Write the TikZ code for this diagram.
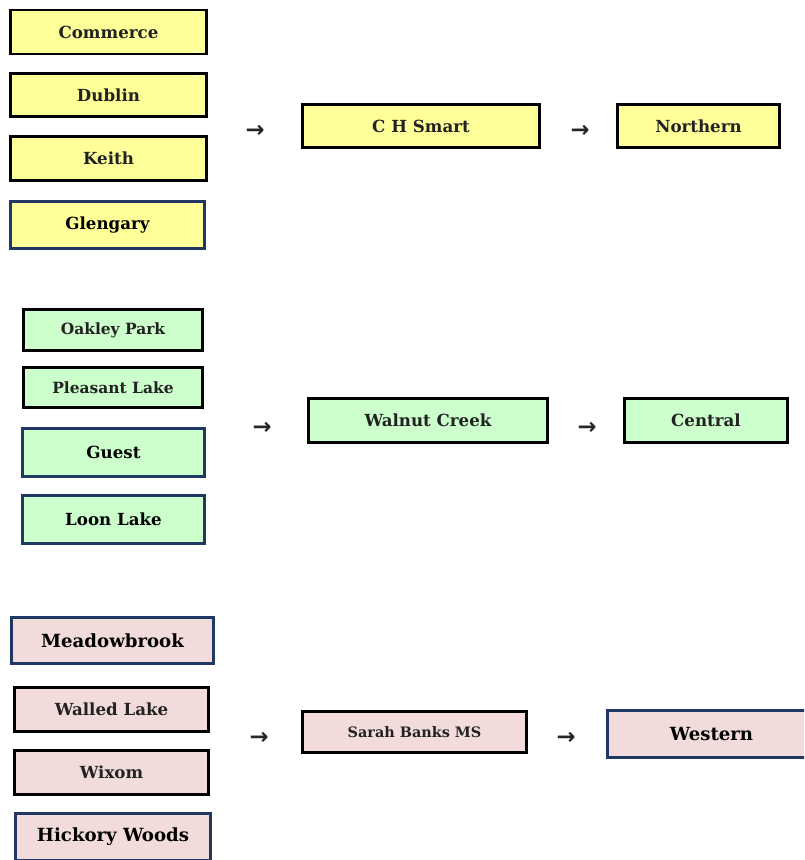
\documentclass[tikz,border=0pt]{standalone}
\usepackage{fontspec}
\setmainfont{DejaVu Serif}
\newfontfamily\arrowfont{DejaVu Sans}
\definecolor{yfill}{HTML}{FFFF99}
\definecolor{gfill}{HTML}{CCFFCC}
\definecolor{pfill}{HTML}{F2DCDB}
\definecolor{navy}{HTML}{1F3864}
\definecolor{ink}{HTML}{222222}
\tikzset{
  box/.style={rectangle, line width=2.2pt, inner sep=0pt, font=\bfseries\fontsize{12.5}{14}\selectfont, text=ink},
  blk/.style={box, draw=black},
  nav/.style={box, draw=navy, text=black},
  sz/.style 2 args={minimum width=#1*0.75pt, minimum height=#2*0.75pt},
  big/.style={font=\bfseries\fontsize{13.6}{15}\selectfont},
  sml/.style={font=\bfseries\fontsize{11.6}{13}\selectfont},
  arr/.style={font=\arrowfont\bfseries\fontsize{17}{19}\selectfont, inner sep=0pt, text=black!85}
}
\begin{document}
\begin{tikzpicture}[x=0.75pt,y=-0.75pt]
\useasboundingbox (0,0) rectangle (804,860);
\clip (0,0) rectangle (804,860);
% group 1
\node[blk, fill=yfill, sz={196}{44}] (commerce) at (108.5,32) {Commerce};
\node[blk, fill=yfill, sz={196}{43}] (dublin) at (108.5,95) {Dublin};
\node[blk, fill=yfill, sz={196}{44}] (keith) at (108.5,158.5) {Keith};
\node[nav, fill=yfill, sz={194}{47}] (glengary) at (107.5,225) {Glengary};
\node[arr] (a1) at (255,131) {→};
\node[blk, fill=yfill, sz={237}{43}] (chsmart) at (421,126) {C H Smart};
\node[arr] (a2) at (580,131) {→};
\node[blk, fill=yfill, sz={162}{43}] (northern) at (698.5,126) {Northern};
% group 2
\node[blk, fill=gfill, sz={179}{41}, sml] (oakley) at (113,330) {Oakley Park};
\node[blk, fill=gfill, sz={179}{40}, sml] (pleasant) at (113,387.5) {Pleasant Lake};
\node[nav, fill=gfill, sz={182}{48}] (guest) at (113.5,452.5) {Guest};
\node[nav, fill=gfill, sz={182}{48}] (loon) at (113.5,519.5) {Loon Lake};
\node[arr] (a3) at (262,428) {→};
\node[blk, fill=gfill, sz={239}{44}] (walnut) at (428,420.5) {Walnut Creek};
\node[arr] (a4) at (587,428) {→};
\node[blk, fill=gfill, sz={163}{44}] (central) at (706,420.5) {Central};
% group 3
\node[nav, fill=pfill, sz={202}{46}, big] (meadow) at (112.5,640.5) {Meadowbrook};
\node[blk, fill=pfill, sz={194}{44}] (walled) at (111.5,709.5) {Walled Lake};
\node[blk, fill=pfill, sz={194}{44}] (wixom) at (111.5,772.5) {Wixom};
\node[nav, fill=pfill, sz={195}{47}, big] (hickory) at (113,837) {Hickory Woods};
\node[arr] (a5) at (259,738) {→};
\node[blk, fill=pfill, sz={224}{41}, font=\bfseries\fontsize{10.8}{12}\selectfont] (sarah) at (414.5,732) {Sarah Banks MS};
\node[arr] (a6) at (566,738) {→};
\node[nav, fill=pfill, sz={208}{47}, big] (western) at (711.5,734) {Western};
\end{tikzpicture}
\end{document}
